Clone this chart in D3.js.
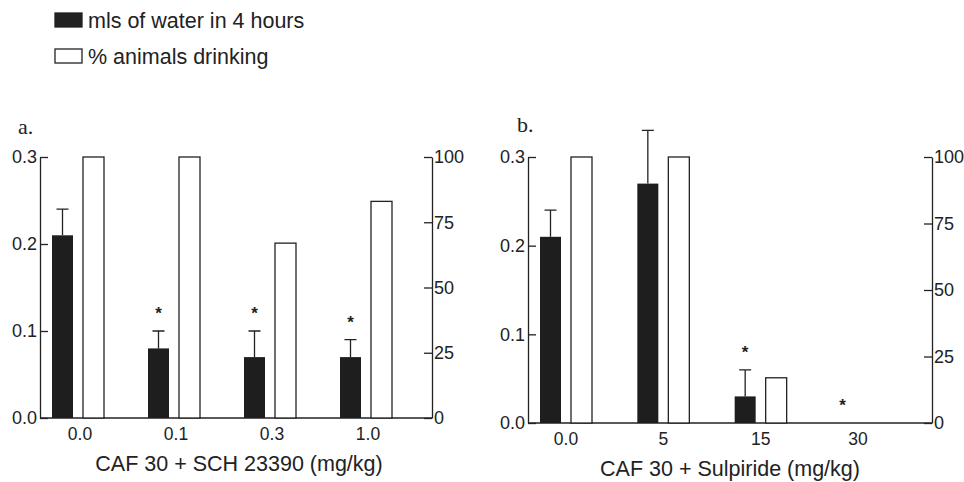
<!DOCTYPE html>
<html>
<head>
<meta charset="utf-8">
<title>Caffeine drinking</title>
<script src="https://cdn.jsdelivr.net/npm/d3@7"></script>
<style>
  body { margin: 0; background: #fff; }
  svg { display: block; font-family: "Liberation Sans", Arial, sans-serif; }
  .tick text { font-size: 18px; fill: #222; }
  .domain, .tick line { stroke: #222; stroke-width: 1.3; }
</style>
</head>
<body>
<svg id="chart" width="964" height="482"></svg>
<script>
// panel a: SCH 23390
var catsA = ["0.0", "0.1", "0.3", "1.0"];
var mlsA = [0.21, 0.08, 0.07, 0.07];
var errA = [0.03, 0.02, 0.03, 0.02];
var pctA = [100, 100, 67, 83];
var starA = [false, true, true, true];

// panel b: Sulpiride
var catsB = ["0.0", "5", "15", "30"];
var mlsB = [0.21, 0.27, 0.03, 0];
var errB = [0.03, 0.06, 0.03, 0];
var pctB = [100, 100, 17, 0];
var starB = [false, false, true, true];

var leftTicks = [0, 0.1, 0.2, 0.3];
var rightTicks = [0, 25, 50, 75, 100];

var svg = d3.select("#chart");

// legend
var legend = [["mls of water in 4 hours", "#222"], ["% animals drinking", "#fff"]];
legend.forEach(function(d, i) {
  svg.append("rect").attr("x", 55).attr("y", 13 + i * 36).attr("width", 27).attr("height", 14)
    .attr("fill", d[1]).attr("stroke", "#222").attr("stroke-width", 1.3);
  svg.append("text").attr("x", 88).attr("y", 28 + i * 36).attr("font-size", 21.5).attr("fill", "#222").text(d[0]);
});

function panel(opt) {
  var g = svg.append("g");
  var y = d3.scaleLinear().domain([0, 0.3]).range([opt.bottom, opt.top]);
  var y2 = d3.scaleLinear().domain([0, 100]).range([opt.bottom, opt.top]);
  var x = d3.scalePoint().domain(opt.cats).range([opt.left + 38, opt.left + opt.ptEnd]);

  // left axis, ticks inside
  g.append("g").attr("transform", "translate(" + opt.left + ",0)")
    .call(d3.axisRight(y).tickValues(leftTicks).tickFormat(d3.format(".1f")).tickSize(8).tickSizeOuter(0))
    .call(function(a) { a.selectAll(".tick text").attr("x", -3).attr("text-anchor", "end"); });

  // right axis, ticks inside
  g.append("g").attr("transform", "translate(" + opt.right + ",0)")
    .call(d3.axisLeft(y2).tickValues(rightTicks).tickSize(8).tickSizeOuter(0))
    .call(function(a) { a.selectAll(".tick text").attr("x", 2).attr("text-anchor", "start"); });

  // baseline
  g.append("line").attr("x1", opt.left).attr("x2", opt.right)
    .attr("y1", opt.bottom).attr("y2", opt.bottom).attr("stroke", "#222").attr("stroke-width", 1.3);

  // white bars (% drinking)
  g.selectAll(".pct").data(opt.pct).enter().append("rect")
    .attr("class", "pct")
    .attr("x", function(d, i) { return x(opt.cats[i]) + 5; })
    .attr("y", function(d) { return y2(d); })
    .attr("width", 21)
    .attr("height", function(d) { return opt.bottom - y2(d); })
    .attr("fill", "#fff").attr("stroke", function(d) { return d > 0 ? "#222" : "none"; })
    .attr("stroke-width", 1.3);

  // error bars
  g.selectAll(".err").data(opt.mls).enter().append("path")
    .attr("class", "err")
    .attr("d", function(d, i) {
      if (opt.err[i] <= 0) return null;
      var cx = x(opt.cats[i]) - 15.5, top = y(d + opt.err[i]);
      return "M" + cx + "," + y(d) + "V" + top + "M" + (cx - 6) + "," + top + "H" + (cx + 6);
    })
    .attr("stroke", "#222").attr("stroke-width", 1.3).attr("fill", "none");

  // black bars (mls)
  g.selectAll(".mls").data(opt.mls).enter().append("rect")
    .attr("class", "mls")
    .attr("x", function(d, i) { return x(opt.cats[i]) - 26; })
    .attr("y", function(d) { return y(d); })
    .attr("width", 21)
    .attr("height", function(d) { return opt.bottom - y(d); })
    .attr("fill", "#1e1e1e");

  // significance stars
  g.selectAll(".star").data(opt.star).enter().append("text")
    .attr("class", "star")
    .attr("x", function(d, i) { return x(opt.cats[i]) - 15.5; })
    .attr("y", function(d, i) { return y(opt.mls[i] + opt.err[i]) - 12; })
    .attr("text-anchor", "middle").attr("font-size", 17).attr("font-weight", "bold").attr("fill", "#222")
    .text(function(d) { return d ? "*" : ""; });

  // category labels
  g.selectAll(".cat").data(opt.cats).enter().append("text")
    .attr("class", "cat")
    .attr("x", function(d) { return x(d) + opt.labDx; })
    .attr("y", opt.bottom + 22)
    .attr("text-anchor", "middle").attr("font-size", 17.5).attr("fill", "#222")
    .text(function(d) { return d; });

  g.append("text").attr("x", (opt.left + opt.right) / 2 + opt.titleDx).attr("y", opt.bottom + 53)
    .attr("text-anchor", "middle").attr("font-size", 21.5).attr("fill", "#222").text(opt.title);

  g.append("text").attr("x", opt.tagX).attr("y", opt.tagY)
    .attr("font-family", "'Liberation Serif', 'Times New Roman', serif")
    .attr("font-size", 22).attr("fill", "#222").text(opt.tag);
}

panel({ cats: catsA, mls: mlsA, err: errA, pct: pctA, star: starA,
  left: 40, right: 432, top: 157, bottom: 418, ptEnd: 326, labDx: 2, titleDx: 3,
  title: "CAF 30 + SCH 23390 (mg/kg)", tag: "a.", tagX: 18, tagY: 134 });

panel({ cats: catsB, mls: mlsB, err: errB, pct: pctB, star: starB,
  left: 528, right: 932, top: 157, bottom: 423, ptEnd: 330, labDx: 0, titleDx: 0,
  title: "CAF 30 + Sulpiride (mg/kg)", tag: "b.", tagX: 517, tagY: 132 });
</script>
</body>
</html>
